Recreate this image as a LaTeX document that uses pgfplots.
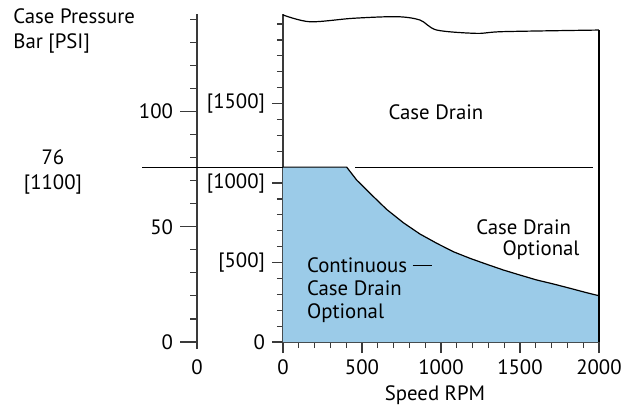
\documentclass[border=0pt]{standalone}
\usepackage{fontspec}
\setmainfont{PT Sans}
\usepackage{pgfplots}
\pgfplotsset{compat=1.18}
\definecolor{fillblue}{HTML}{9BCBE8}
\definecolor{axisgray}{HTML}{3A3A3A}

\begin{document}
\begin{tikzpicture}[font=\fontsize{10.4}{12.5}\selectfont]
  \path[use as bounding box] (-141.5pt,-33pt) rectangle (169pt,171pt);
  % bar scale (left axis)
  \begin{axis}[
      at={(-43pt,0pt)}, anchor=south west,
      scale only axis, width=1pt, height=163.77pt,
      xmin=0, xmax=1, ymin=0, ymax=142.07,
      axis x line=none, axis y line=left,
      y axis line style={-, axisgray, line width=0.6pt, shorten <=-3.5pt},
      ytick={0,50,100}, minor ytick={10,20,...,140},
      tick align=outside, major tick length=8.5pt, minor tick length=3.5pt,
      tick style={axisgray, line width=0.6pt},
      /pgf/number format/assume math mode=true,
      clip=false,
    ]
    \node[anchor=north, inner sep=0pt, yshift=-8.5pt] at (axis cs:0,0) {0};
  \end{axis}

  % PSI / RPM axis
  \begin{axis}[
      at={(0pt,0pt)}, anchor=south west,
      scale only axis, width=158pt, height=163.77pt,
      xmin=0, xmax=2000, ymin=0, ymax=2060,
      axis x line=bottom, axis y line=left,
      axis line style={-, axisgray, line width=0.6pt},
      xtick={0,500,...,2000}, minor x tick num=4,
      ytick={0,500,1000,1500}, yticklabels={0,{[500]},{[1000]},{[1500]}},
      minor ytick={100,200,...,2000},
      tick align=outside, major tick length=5.5pt, minor tick length=3pt,
      tick style={axisgray, line width=0.6pt},
      /pgf/number format/assume math mode=true,
      /pgf/number format/set thousands separator={},
      clip=false,
    ]
    % continuous region
    \addplot[fill=fillblue, draw=none] coordinates {
        (0,0) (0,1100) (403,1100) (466,1019) (551,935) (656,834) (762,750)
        (867,679) (973,621) (1078,568) (1184,526) (1289,489) (1394,453)
        (1500,421) (1606,390) (1711,365) (1816,338) (1922,310) (2000,291) (2000,0)
      } -- cycle;
    \addplot[black, line width=0.6pt] coordinates {
        (0,1100) (403,1100) (466,1019) (551,935) (656,834) (762,750)
        (867,679) (973,621) (1078,568) (1184,526) (1289,489) (1394,453)
        (1500,421) (1606,390) (1711,365) (1816,338) (1922,310) (2000,291)
      };
    % case drain limit
    \addplot[black, line width=0.6pt, smooth] coordinates {
        (0,2057) (171,2014) (445,2036) (720,2046) (867,2025) (973,1962)
        (1226,1941) (1394,1952) (2000,1962)
      };
    \addplot[black, line width=0.6pt] coordinates {(2000,1962) (2000,0)};
    % 76 bar / 1100 PSI line
    \addplot[black, line width=0.6pt] coordinates {(-892,1100) (0,1100)};
    \addplot[black, line width=0.6pt] coordinates {(456,1100) (1962,1100)};

    \node at (axis cs:968,1447) {Case Drain};
    \node at (axis cs:1523,723) {Case Drain};
    \node at (axis cs:1633,579) {Optional};
    \node[anchor=west, align=left, inner sep=0pt, font=\fontsize{10.4}{11.5}\selectfont]
      at (axis cs:150,327) {Continuous \rule[0.3em]{0.95em}{0.5pt}\\Case Drain\\Optional};
    \node at (axis cs:962,-333) {Speed RPM};
    \node[anchor=west, align=left, inner sep=0pt] at (axis cs:-1709,1956)
      {Case Pressure\\Bar [PSI]};
    \node[align=center] at (axis cs:-1456,1069) {76\\{[1100]}};
  \end{axis}
\end{tikzpicture}
\end{document}
